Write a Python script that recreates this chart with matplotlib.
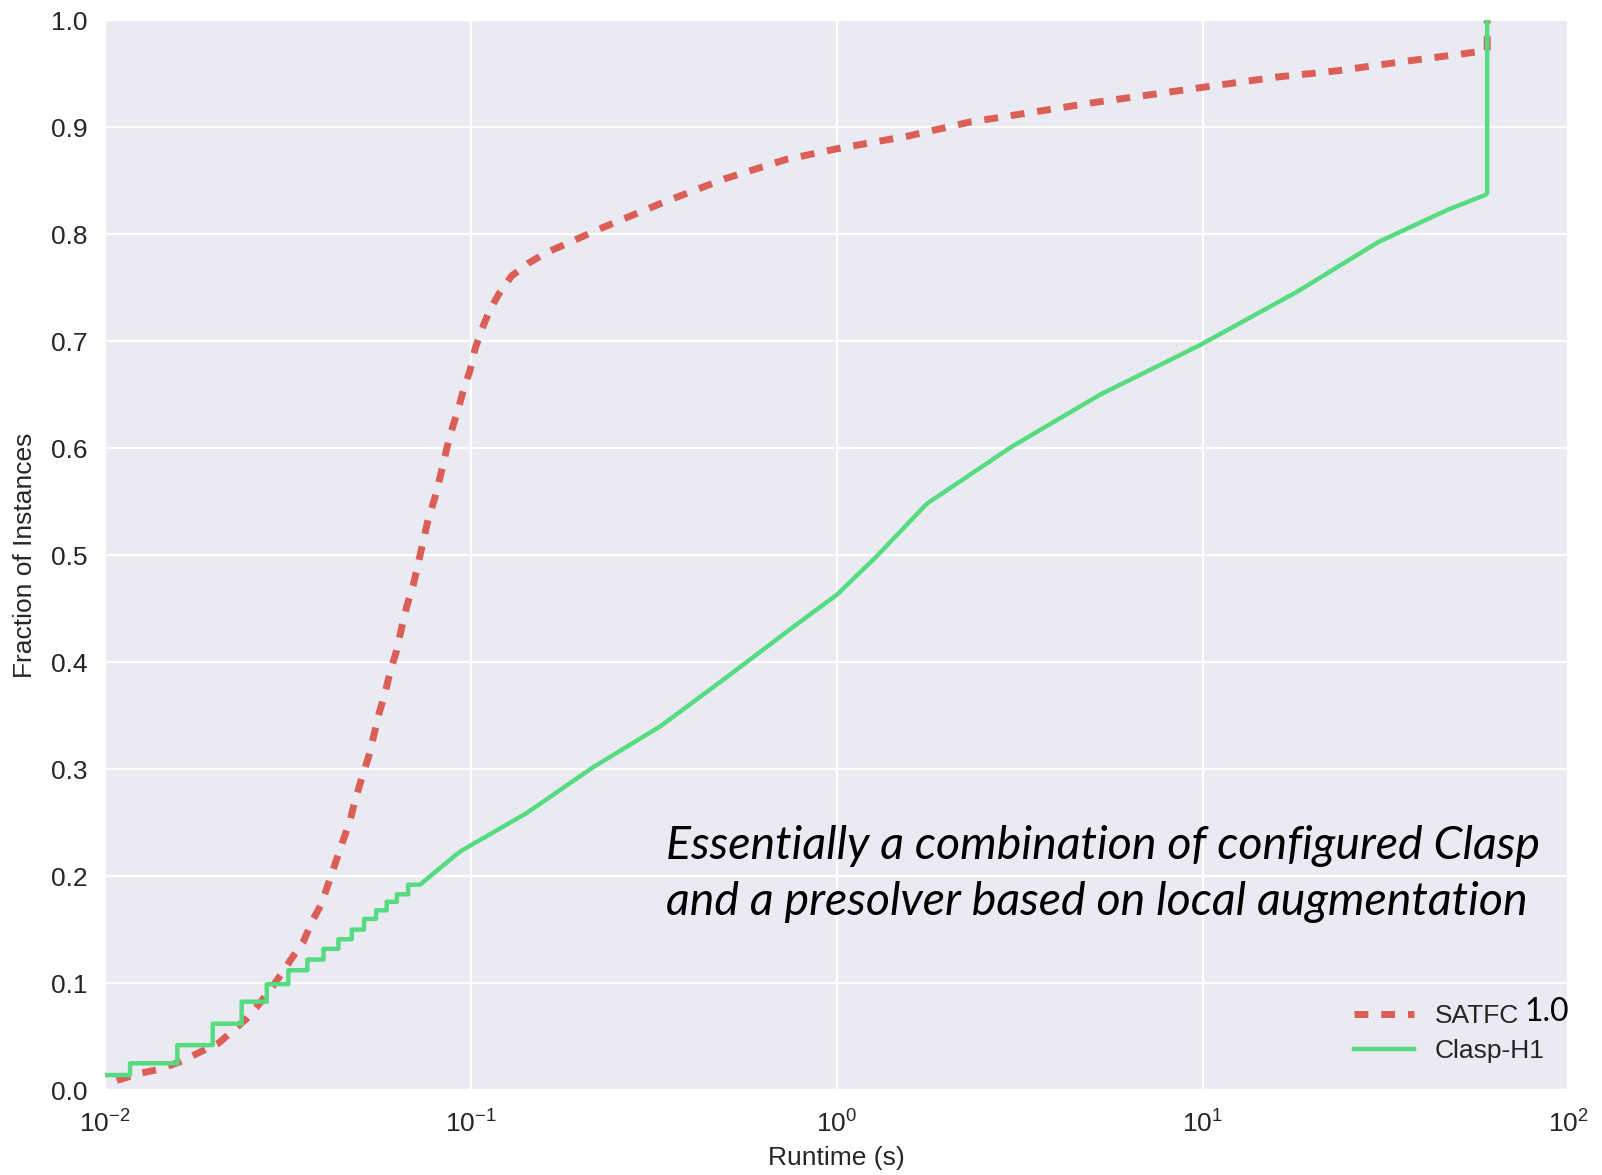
import numpy as np
import matplotlib
matplotlib.use("Agg")
import matplotlib.pyplot as plt

# runtime (s) / fraction of instances solved
satfc_t = [0.01075, 0.01245, 0.01412, 0.01602, 0.01778, 0.02038, 0.02217, 0.02437,
           0.02621, 0.02822, 0.03038, 0.03255, 0.03479, 0.03668, 0.03907, 0.04073,
           0.04477, 0.0467, 0.0482, 0.0502, 0.0524, 0.0541, 0.0558, 0.0582, 0.0601,
           0.0626, 0.0646, 0.0667, 0.0696, 0.0718, 0.0741, 0.0764, 0.0797, 0.0823,
           0.0849, 0.0876, 0.0914, 0.0953, 0.0994, 0.1026, 0.107, 0.1127, 0.120,
           0.129, 0.1434, 0.161, 0.228, 0.336, 0.494, 0.726, 1.0, 1.57, 2.31, 3.40,
           4.99, 7.35, 10.0, 15.9, 23.4, 34.4, 54.6, 60.0, 60.0]
satfc_frac = [0.009, 0.0156, 0.0196, 0.0265, 0.034, 0.0437, 0.0545, 0.067,
              0.0795, 0.0935, 0.109, 0.1246, 0.1386, 0.157, 0.1745, 0.193,
              0.234, 0.252, 0.271, 0.291, 0.311, 0.330, 0.350, 0.371, 0.391,
              0.411, 0.432, 0.452, 0.473, 0.493, 0.514, 0.534, 0.554, 0.573,
              0.593, 0.612, 0.632, 0.654, 0.673, 0.693, 0.711, 0.730, 0.746,
              0.761, 0.773, 0.783, 0.806, 0.830, 0.852, 0.870, 0.880, 0.892, 0.905, 0.914,
              0.923, 0.931, 0.9375, 0.947, 0.953, 0.961, 0.970, 0.972, 1.0]

clasp_t = [0.0100, 0.01169, 0.01169, 0.01574, 0.01574, 0.01967, 0.01967, 0.0236,
           0.0236, 0.02764, 0.02764, 0.03166, 0.03166, 0.0357, 0.0357, 0.0395,
           0.0395, 0.0434, 0.0434, 0.0472, 0.0472, 0.051, 0.051, 0.055, 0.055,
           0.0588, 0.0588, 0.0627, 0.0627, 0.0673, 0.0673, 0.0725,
           0.0933, 0.142, 0.216, 0.329, 0.50, 0.76, 1.0, 1.285, 1.76, 2.99,
           5.24, 9.84, 18.05, 30.3, 46.8, 59.4, 60.0, 60.0]
clasp_frac = [0.014, 0.014, 0.025, 0.025, 0.042, 0.042, 0.062, 0.062,
              0.0826, 0.0826, 0.099, 0.099, 0.112, 0.112, 0.122, 0.122,
              0.132, 0.132, 0.141, 0.141, 0.150, 0.150, 0.160, 0.160, 0.168,
              0.168, 0.176, 0.176, 0.183, 0.183, 0.192, 0.192,
              0.223, 0.259, 0.302, 0.340, 0.386, 0.433, 0.463, 0.499, 0.548, 0.601,
              0.650, 0.6965, 0.746, 0.793, 0.823, 0.837, 0.839, 1.0]

y_ticks = np.arange(0, 1.01, 0.1)
x_ticks = [1e-2, 1e-1, 1e0, 1e1, 1e2]

plt.rcParams['font.family'] = ['Liberation Sans', 'DejaVu Sans']
plt.rcParams['mathtext.default'] = 'regular'

fig = plt.figure(figsize=(16.02, 11.75), dpi=100)
ax = fig.add_axes([0.0657, 0.0723, 0.9133, 0.9103])
ax.set_facecolor('#EAEAF2')
for s in ax.spines.values():
    s.set_visible(False)

ax.plot(satfc_t, satfc_frac, color='#DB5F57', lw=5, dashes=(2, 1.85), label='SATFC', zorder=3)
ax.plot(clasp_t, clasp_frac, color='#57DB80', lw=3.2, label='Clasp-H1', zorder=4)

ax.set_xscale('log')
ax.set_xlim(1e-2, 1e2)
ax.set_ylim(0, 1)
ax.set_xticks(x_ticks)
ax.set_yticks(y_ticks)
ax.set_yticklabels(['%.1f' % v for v in y_ticks])
ax.minorticks_off()
ax.grid(True, color='white', lw=1.6)
ax.set_axisbelow(True)
ax.tick_params(axis='both', length=0, labelsize=19, labelcolor='#262626')
ax.tick_params(axis='x', pad=15)
ax.tick_params(axis='y', pad=13)

ax.set_xlabel('Runtime (s)', fontsize=19, color='#262626', labelpad=6)
ax.set_ylabel('Fraction of Instances', fontsize=19, color='#262626', labelpad=10)

leg = ax.legend(loc='lower right', bbox_to_anchor=(1.0, 0.003), fontsize=19,
                frameon=False, handlelength=2.25, labelspacing=0.42)
for t in leg.get_texts():
    t.set_color('#262626')

ax.text(0.970, 0.0734, '1.0', transform=ax.transAxes, fontsize=23, family='Lato',
        color='black', va='center', ha='left')

ax.text(0.383, 0.228, 'Essentially a combination of configured Clasp',
        transform=ax.transAxes, fontsize=33.5, family='Lato', style='italic',
        color='black', va='center', ha='left')
ax.text(0.383, 0.176, 'and a presolver based on local augmentation',
        transform=ax.transAxes, fontsize=33.5, family='Lato', style='italic',
        color='black', va='center', ha='left')

fig.savefig('out.png', dpi=100)
